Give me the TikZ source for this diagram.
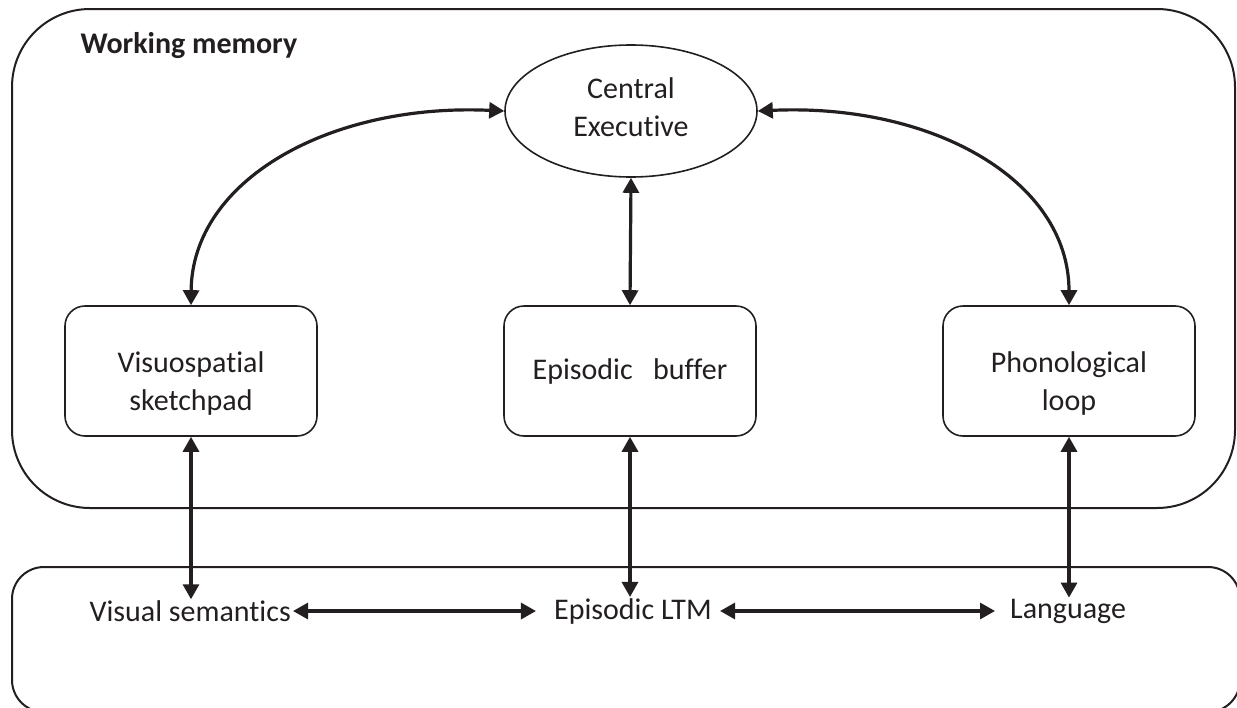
\documentclass[tikz,border=0pt]{standalone}
\usepackage{fontspec}
\setmainfont{Carlito}[Ligatures={NoCommon}]
\usetikzlibrary{arrows.meta,shapes.geometric}
\definecolor{ink}{HTML}{231F20}
\tikzset{
  frame/.style={draw=ink, line width=2pt},
  module/.style={draw=ink, line width=1.6pt, rounded corners=20pt, minimum width=252pt,
    minimum height=130pt, inner sep=0pt, align=center, text=ink},
  twoline/.style={text height=83pt},
  label/.style={text=ink, inner sep=0pt, align=center},
  link/.style={draw=ink, line width=3.2pt,
    {Triangle[length=15pt,width=16pt]}-{Triangle[length=15pt,width=16pt]}},
}
\begin{document}
\begin{tikzpicture}[x=1pt,y=-1pt, font=\fontsize{30}{38}\selectfont]
  \useasboundingbox (0,0) rectangle (1237,707);
  \clip (0,0) rectangle (1237,707);

  % outer containers
  \draw[frame, rounded corners=78pt] (12,9) rectangle (1235,508);
  \draw[frame, rounded corners=32pt] (12,567) rectangle (1240,712);
  \node[anchor=base west, text=ink, font=\fontsize{30}{36}\selectfont\bfseries] (wm) at (77,53) {Working memory};

  % components of working memory
  \node[ellipse, draw=ink, line width=1.6pt, minimum width=252pt, minimum height=132pt,
        inner sep=0pt, align=center, text=ink, text depth=8pt] (ce) at (631,111) {Central\\Executive};
  \node[module, twoline] (vs) at (191,371) {Visuospatial\\sketchpad};
  \node[module] (eb) at (630,371) {Episodic\ \ \ buffer};
  \node[module, twoline] (pl) at (1069,371) {Phonological\\loop};

  % long-term memory stores
  \node[label, anchor=east] (sem) at (291,611) {Visual semantics};
  \node[label] (ltm) at (633,611) {Episodic LTM};
  \node[label, anchor=west] (lang) at (1010,611) {Language};

  % connections
  \draw[link] (ce.west) .. controls (330,103) and (192,180) .. (vs.north);
  \draw[link] (ce.east) .. controls (932,103) and (1069,180) .. (pl.north);
  \draw[link] (ce.south) -- (eb.north);
  \draw[link] (vs.south) -- ([yshift=1pt]vs.south |- sem.north);
  \draw[link] (eb.south) -- ([yshift=1pt]eb.south |- ltm.north);
  \draw[link] (pl.south) -- ([yshift=1pt]pl.south |- lang.north);
  \draw[link, shorten >=18pt, shorten <=2pt] (sem.east) -- (ltm.west);
  \draw[link, shorten >=15pt, shorten <=8pt] (ltm.east) -- (lang.west);
\end{tikzpicture}
\end{document}
